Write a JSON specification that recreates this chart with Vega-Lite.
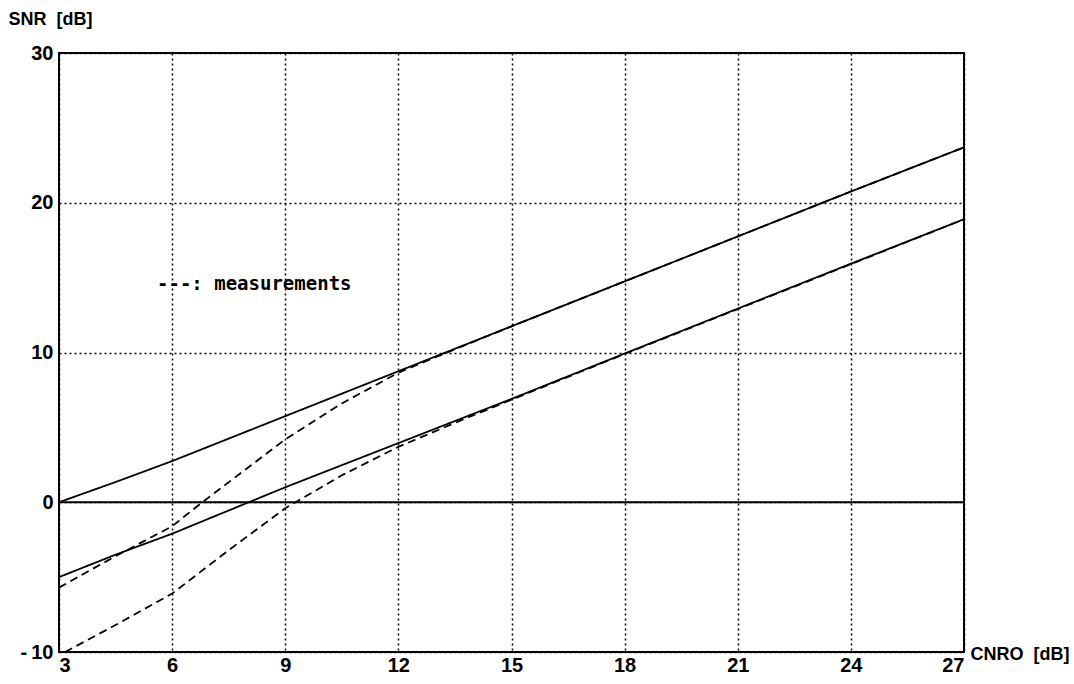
{
  "$schema": "https://vega.github.io/schema/vega-lite/v6.json",
  "width": 905,
  "height": 599,
  "autosize": "none",
  "padding": {"left": 59, "top": 53, "right": 110, "bottom": 32},
  "background": "white",
  "config": {
    "view": {"stroke": "black", "strokeWidth": 2},
    "font": "Liberation Sans",
    "axis": {
      "labelFont": "Liberation Sans",
      "labelFontWeight": "bold",
      "labelFontSize": 20,
      "labelColor": "black",
      "titleFont": "Liberation Sans",
      "titleFontWeight": "bold",
      "titleFontSize": 18,
      "titleColor": "black",
      "ticks": false,
      "domain": false,
      "grid": true,
      "gridColor": "black",
      "gridDash": [2, 3],
      "gridWidth": 1.5,
      "gridOpacity": 1
    }
  },
  "datasets": {
    "curves": [
      {"curve": "theory high", "kind": "theory", "cnr": 3, "snr": 0.0},
      {"curve": "theory high", "kind": "theory", "cnr": 4.5, "snr": 1.35},
      {"curve": "theory high", "kind": "theory", "cnr": 6, "snr": 2.75},
      {"curve": "theory high", "kind": "theory", "cnr": 9, "snr": 5.75},
      {"curve": "theory high", "kind": "theory", "cnr": 12, "snr": 8.75},
      {"curve": "theory high", "kind": "theory", "cnr": 15, "snr": 11.75},
      {"curve": "theory high", "kind": "theory", "cnr": 18, "snr": 14.75},
      {"curve": "theory high", "kind": "theory", "cnr": 21, "snr": 17.75},
      {"curve": "theory high", "kind": "theory", "cnr": 24, "snr": 20.75},
      {"curve": "theory high", "kind": "theory", "cnr": 27, "snr": 23.7},

      {"curve": "theory low", "kind": "theory", "cnr": 3, "snr": -5.0},
      {"curve": "theory low", "kind": "theory", "cnr": 4.5, "snr": -3.5},
      {"curve": "theory low", "kind": "theory", "cnr": 6, "snr": -2.1},
      {"curve": "theory low", "kind": "theory", "cnr": 9, "snr": 1.0},
      {"curve": "theory low", "kind": "theory", "cnr": 12, "snr": 3.95},
      {"curve": "theory low", "kind": "theory", "cnr": 15, "snr": 6.9},
      {"curve": "theory low", "kind": "theory", "cnr": 18, "snr": 9.93},
      {"curve": "theory low", "kind": "theory", "cnr": 21, "snr": 12.93},
      {"curve": "theory low", "kind": "theory", "cnr": 24, "snr": 15.93},
      {"curve": "theory low", "kind": "theory", "cnr": 27, "snr": 18.9},

      {"curve": "measured high", "kind": "measurement", "cnr": 3, "snr": -5.7},
      {"curve": "measured high", "kind": "measurement", "cnr": 4.5, "snr": -3.6},
      {"curve": "measured high", "kind": "measurement", "cnr": 6, "snr": -1.6},
      {"curve": "measured high", "kind": "measurement", "cnr": 6.8, "snr": 0.0},
      {"curve": "measured high", "kind": "measurement", "cnr": 9, "snr": 4.2},
      {"curve": "measured high", "kind": "measurement", "cnr": 10.5, "snr": 6.6},
      {"curve": "measured high", "kind": "measurement", "cnr": 12, "snr": 8.65},
      {"curve": "measured high", "kind": "measurement", "cnr": 13, "snr": 9.7},
      {"curve": "measured high", "kind": "measurement", "cnr": 15, "snr": 11.75},
      {"curve": "measured high", "kind": "measurement", "cnr": 18, "snr": 14.75},
      {"curve": "measured high", "kind": "measurement", "cnr": 21, "snr": 17.75},
      {"curve": "measured high", "kind": "measurement", "cnr": 24, "snr": 20.75},
      {"curve": "measured high", "kind": "measurement", "cnr": 27, "snr": 23.7},

      {"curve": "measured low", "kind": "measurement", "cnr": 3.16, "snr": -10.0},
      {"curve": "measured low", "kind": "measurement", "cnr": 4.5, "snr": -8.2},
      {"curve": "measured low", "kind": "measurement", "cnr": 6, "snr": -6.1},
      {"curve": "measured low", "kind": "measurement", "cnr": 7.5, "snr": -3.2},
      {"curve": "measured low", "kind": "measurement", "cnr": 9, "snr": -0.4},
      {"curve": "measured low", "kind": "measurement", "cnr": 10.5, "snr": 1.8},
      {"curve": "measured low", "kind": "measurement", "cnr": 12, "snr": 3.7},
      {"curve": "measured low", "kind": "measurement", "cnr": 13.5, "snr": 5.3},
      {"curve": "measured low", "kind": "measurement", "cnr": 15, "snr": 6.85},
      {"curve": "measured low", "kind": "measurement", "cnr": 18, "snr": 9.9},
      {"curve": "measured low", "kind": "measurement", "cnr": 21, "snr": 12.9},
      {"curve": "measured low", "kind": "measurement", "cnr": 24, "snr": 15.9},
      {"curve": "measured low", "kind": "measurement", "cnr": 27, "snr": 18.9}
    ],
    "note": [
      {"cnr": 5.6, "snr": 14.6, "label": "---: measurements"}
    ],
    "zero": [
      {"snr": 0}
    ]
  },
  "encoding": {
    "x": {
      "field": "cnr",
      "type": "quantitative",
      "scale": {"domain": [3, 27], "nice": false, "zero": false},
      "axis": {
        "values": [3, 6, 9, 12, 15, 18, 21, 24, 27],
        "labelPadding": 3,
        "title": "CNRO\u00a0 [dB]",
        "titleAnchor": "start",
        "titleAlign": "left",
        "titleBaseline": "alphabetic",
        "titleX": 911,
        "titleY": 7
      }
    },
    "y": {
      "field": "snr",
      "type": "quantitative",
      "scale": {"domain": [-10, 30], "nice": false, "zero": false},
      "axis": {
        "values": [-10, 0, 10, 20, 30],
        "labelPadding": 6,
        "labelExpr": "datum.value < 0 ? '-\u2009' + format(-datum.value, 'd') : datum.label",
        "title": "SNR\u00a0 [dB]",
        "titleAngle": 0,
        "titleAlign": "left",
        "titleBaseline": "alphabetic",
        "titleX": -51,
        "titleY": -29
      }
    }
  },
  "layer": [
    {
      "data": {"name": "zero"},
      "mark": {"type": "rule", "color": "black", "strokeWidth": 2},
      "encoding": {"x": null}
    },
    {
      "data": {"name": "curves"},
      "mark": {"type": "line", "color": "black", "strokeWidth": 1.8, "clip": true},
      "encoding": {
        "detail": {"field": "curve"},
        "strokeDash": {
          "field": "kind",
          "type": "nominal",
          "scale": {"domain": ["theory", "measurement"], "range": [[1, 0], [8, 5]]},
          "legend": null
        }
      }
    },
    {
      "data": {"name": "note"},
      "mark": {
        "type": "text",
        "align": "left",
        "baseline": "middle",
        "font": "DejaVu Sans Mono",
        "fontWeight": "bold",
        "fontSize": 19,
        "color": "black"
      },
      "encoding": {"text": {"field": "label"}}
    }
  ]
}
